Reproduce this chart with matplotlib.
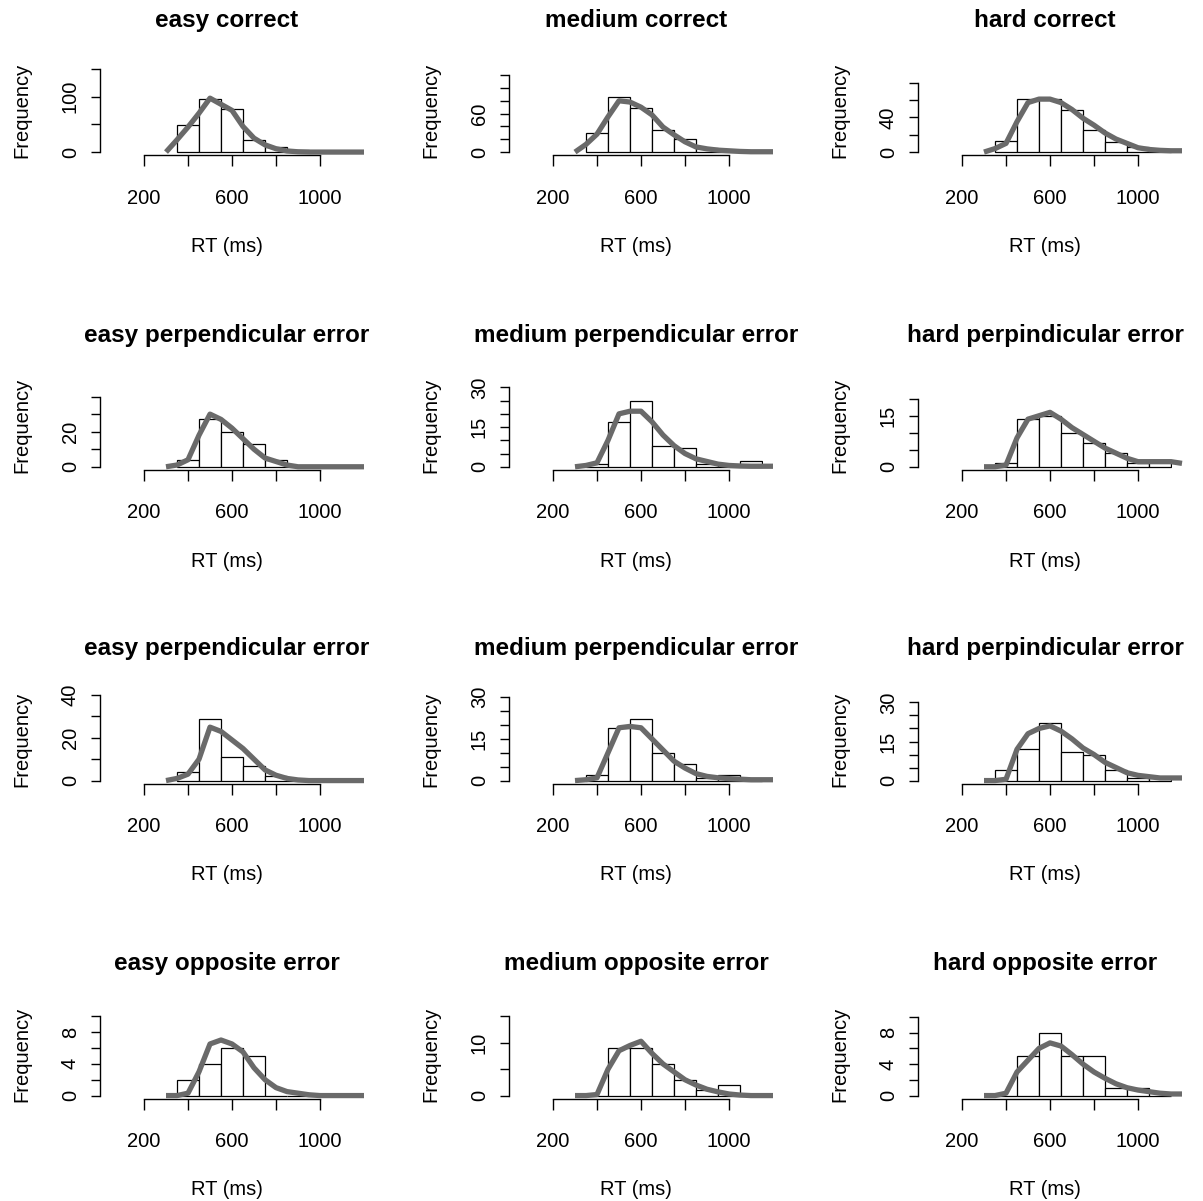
import numpy as np
import matplotlib
matplotlib.use("Agg")
import matplotlib.pyplot as plt

plt.rcParams['font.family'] = ['Liberation Sans', 'DejaVu Sans']

# histogram bins (ms) and grid of the fitted curve (ms)
bin_edges = [350, 450, 550, 650, 750, 850, 950, 1050, 1150]
curve_rt = [300, 350, 400, 450, 500, 550, 600, 650, 700, 750, 800, 850,
            900, 950, 1000, 1050, 1100, 1150, 1200]

titles = ["easy correct", "medium correct", "hard correct",
          "easy perpendicular error", "medium perpendicular error", "hard perpindicular error",
          "easy perpendicular error", "medium perpendicular error", "hard perpindicular error",
          "easy opposite error", "medium opposite error", "hard opposite error"]

# counts per bin
counts_easy_correct = [49, 95, 77, 21, 10, 3, 0, 0]
counts_medium_correct = [29, 86, 68, 34, 20, 6, 2, 0]
counts_hard_correct = [13, 61, 61, 49, 25, 12, 6, 2]
counts_easy_perp1 = [4, 27, 20, 13, 4, 0, 0, 0]
counts_medium_perp1 = [1, 17, 25, 8, 7, 1, 0, 2]
counts_hard_perp1 = [1, 14, 15, 10, 7, 4, 1, 2]
counts_easy_perp2 = [4, 29, 11, 7, 2, 0, 0, 0]
counts_medium_perp2 = [2, 19, 22, 10, 6, 1, 2, 0]
counts_hard_perp2 = [4, 12, 22, 11, 10, 4, 1, 1]
counts_easy_opp = [2, 4, 6, 5, 0, 0, 0, 0]
counts_medium_opp = [0, 9, 9, 6, 3, 1, 2, 0]
counts_hard_opp = [0, 5, 8, 5, 5, 1, 1, 0]

# fitted curves on curve_rt
curve_easy_correct = [0, 22, 45, 70, 97, 86, 75, 46, 25, 13, 6, 2, 0.5, 0, 0, 0, 0, 0, 0]
curve_medium_correct = [0, 12, 28, 55, 80, 78, 70, 58, 39, 27, 16, 8, 5, 3, 2, 1, 0.5, 0.5, 0.5]
curve_hard_correct = [0, 4, 10, 35, 57, 61, 61, 57, 49, 39, 31, 22, 15, 10, 5, 3, 2, 1.5, 1.5]
curve_easy_perp1 = [0, 1, 4, 18, 30, 27, 22, 16, 10, 5, 3, 1, 0, 0, 0, 0, 0, 0, 0]
curve_medium_perp1 = [0, 0.5, 1.5, 10, 20, 21, 21, 17, 12, 8, 5, 3, 2, 1, 0.5, 0.3, 0.2, 0.2, 0.2]
curve_hard_perp1 = [0, 0, 0.5, 8.5, 14, 15, 16, 14, 11.5, 9.5, 7.5, 5.5, 4, 2.5, 1.5, 1.5, 1.5, 1.5, 1]
curve_easy_perp2 = [0, 1, 3, 10, 25, 23, 19, 15, 10, 5, 2.5, 1, 0.3, 0, 0, 0, 0, 0, 0]
curve_medium_perp2 = [0, 0.3, 1, 10, 19, 19.5, 19, 15, 11, 7, 4.5, 2.5, 1.5, 1, 0.7, 0.5, 0.3, 0.3, 0.3]
curve_hard_perp2 = [0, 0, 0.5, 12, 18, 20, 21, 19, 16, 12.5, 10, 7, 5, 3, 2, 1.5, 1, 1, 1]
curve_easy_opp = [0, 0, 0.3, 3, 6.5, 7, 6.5, 5.5, 3.5, 2, 1, 0.5, 0.3, 0.1, 0, 0, 0, 0, 0]
curve_medium_opp = [0, 0, 0.2, 5, 8.5, 9.5, 10.3, 8, 6, 4.5, 3, 2, 1.2, 0.7, 0.3, 0.1, 0, 0, 0]
curve_hard_opp = [0, 0, 0.3, 3, 4.5, 6, 6.7, 6.3, 5.2, 4, 3, 2.2, 1.5, 1, 0.7, 0.5, 0.3, 0.2, 0.2]

all_counts = [counts_easy_correct, counts_medium_correct, counts_hard_correct,
              counts_easy_perp1, counts_medium_perp1, counts_hard_perp1,
              counts_easy_perp2, counts_medium_perp2, counts_hard_perp2,
              counts_easy_opp, counts_medium_opp, counts_hard_opp]
all_curves = [curve_easy_correct, curve_medium_correct, curve_hard_correct,
              curve_easy_perp1, curve_medium_perp1, curve_hard_perp1,
              curve_easy_perp2, curve_medium_perp2, curve_hard_perp2,
              curve_easy_opp, curve_medium_opp, curve_hard_opp]

# y axis: plotted range top, tick step, last tick, which tick labels are shown
ylim_top = [150, 130, 96, 47.5, 31.5, 24.5, 39, 30, 32, 10.5, 15.8, 10.6]
ytick_step = [50, 20, 20, 10, 5, 5, 10, 5, 5, 2, 5, 2]
ytick_last = [150, 120, 80, 40, 30, 20, 40, 30, 30, 10, 15, 10]
ytick_shown = [[0, 100], [0, 60], [0, 40], [0, 20], [0, 15, 30], [0, 15],
               [0, 20, 40], [0, 15, 30], [0, 15, 30], [0, 4, 8], [0, 10], [0, 4, 8]]

xticks = [200, 400, 600, 800, 1000]
xtick_labels = ["200", "", "600", "", "1000"]

W, H = 1203, 1201
fig = plt.figure(figsize=(W / 100, H / 100), dpi=100)

col_left = [100, 509, 918]          # pixel position of the y axis line
row_zero = [152, 466.7, 780.5, 1095.5]  # pixel row of y = 0
ax_w, ax_h = 254, 90
bar_w = bin_edges[1] - bin_edges[0]
centers = [(a + b) / 2 for a, b in zip(bin_edges[:-1], bin_edges[1:])]

for i in range(12):
    r, c = divmod(i, 3)
    bottom_px = row_zero[r] + 3.4
    ax = fig.add_axes([col_left[c] / W, 1 - bottom_px / H, ax_w / W, ax_h / H])

    ax.bar(centers, all_counts[i], width=bar_w, color='white',
           edgecolor='black', linewidth=0.9, zorder=2)
    ax.plot(curve_rt, all_curves[i], color='#6a6a6a', linewidth=3.8,
            solid_capstyle='butt', zorder=3, clip_on=False)

    top = ylim_top[i]
    ax.set_xlim(0, ax_w / 0.22)
    ax.set_ylim(-0.04 * top, 1.04 * top)

    for s in ['top', 'right']:
        ax.spines[s].set_visible(False)
    ax.spines['left'].set_bounds(0, ytick_last[i])
    ax.spines['bottom'].set_bounds(200, 1000)
    ax.spines['left'].set_linewidth(1.0)
    ax.spines['bottom'].set_linewidth(1.0)

    ax.set_xticks(xticks)
    ax.set_xticklabels(xtick_labels)
    yt = np.arange(0, ytick_last[i] + ytick_step[i] / 2, ytick_step[i])
    ax.set_yticks(yt)
    ax.set_yticklabels([str(int(v)) if int(v) in ytick_shown[i] else "" for v in yt],
                       rotation=90, va='center')

    ax.tick_params(axis='x', length=8, width=1.0, pad=16, labelsize=14.5)
    ax.tick_params(axis='y', length=6.5, width=1.0, pad=8, labelsize=14.5)

    ax.set_title(titles[i], fontsize=17.5, fontweight='bold', y=1 + 45 / ax_h,
                 va='center', pad=0)
    ax.set_xlabel("RT (ms)", fontsize=14.5)
    ax.xaxis.set_label_coords(0.5, -91 / ax_h)
    ax.xaxis.label.set_va('center')
    ax.set_ylabel("Frequency", fontsize=14.5)
    ax.yaxis.set_label_coords(-78 / ax_w, 0.5)
    ax.yaxis.label.set_va('center')
    ax.patch.set_alpha(0)

fig.savefig("out.png", dpi=100)
